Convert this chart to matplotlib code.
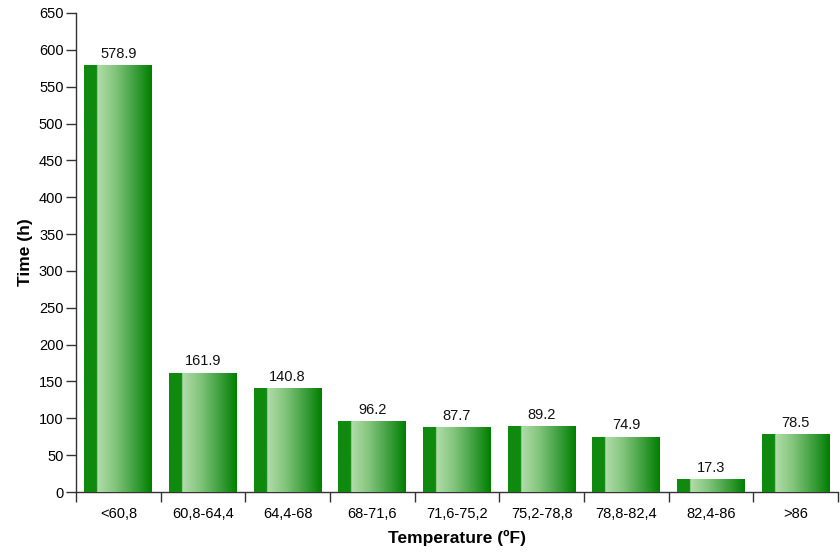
import matplotlib
matplotlib.use("Agg")
import matplotlib.pyplot as plt
import numpy as np
from matplotlib.colors import LinearSegmentedColormap

categories = ["<60,8", "60,8-64,4", "64,4-68", "68-71,6", "71,6-75,2",
              "75,2-78,8", "78,8-82,4", "82,4-86", ">86"]
values = [578.9, 161.9, 140.8, 96.2, 87.7, 89.2, 74.9, 17.3, 78.5]
yticks = list(range(0, 651, 50))

plt.rcParams['font.family'] = ['Liberation Sans', 'DejaVu Sans']

fig = plt.figure(figsize=(8.4, 5.55), dpi=100)
ax = fig.add_axes([76/840, 63/555, 762/840, 479/555])

x = np.arange(len(categories))
bars = ax.bar(x, values, width=0.8, color="#0f8a0f", edgecolor="none", zorder=2)

# gradient: dark strip on the left, then light -> dark green
cmap = LinearSegmentedColormap.from_list("g", [
    (0.0, "#0f8a0f"), (0.19, "#0f8a0f"), (0.195, "#b2dcaa"),
    (0.45, "#84c67e"), (0.75, "#3e9f3e"), (1.0, "#007f00")])
grad = np.linspace(0, 1, 256).reshape(1, -1)
for b in bars:
    x0, y0 = b.get_x(), b.get_y()
    w, h = b.get_width(), b.get_height()
    im = ax.imshow(grad, cmap=cmap, extent=[x0, x0 + w, y0, y0 + h],
                   aspect="auto", zorder=3, interpolation="bilinear")
    im.set_clip_path(b)
    ax.text(x0 + w / 2, h + 6, f"{h:.1f}", ha="center", va="bottom",
            fontsize=10.5, color="#111111", zorder=4)

ax.set_xlim(-0.5, len(categories) - 0.5)
ax.set_ylim(0, 650)
ax.set_yticks(yticks)
ax.set_yticklabels([str(t) for t in yticks], fontsize=10.5)

ax.set_xticks(x)
ax.set_xticklabels(categories, fontsize=10.5)
ax.tick_params(axis="x", length=0, pad=11)
# boundary ticks
ax.set_xticks(np.arange(len(categories) + 1) - 0.5, minor=True)
ax.tick_params(axis="x", which="minor", length=7, width=1, color="#333333", direction="out")
ax.tick_params(axis="y", length=7, width=1, color="#333333", direction="out", pad=2)

for s in ["top", "right"]:
    ax.spines[s].set_visible(False)
for s in ["left", "bottom"]:
    ax.spines[s].set_color("#333333")
    ax.spines[s].set_linewidth(1)

ax.set_xlabel("Temperature (ºF)", fontsize=12.5, fontweight="bold", labelpad=6)
ax.set_ylabel("Time (h)", fontsize=12.5, fontweight="bold", labelpad=4)

fig.savefig("out.png", dpi=100)
